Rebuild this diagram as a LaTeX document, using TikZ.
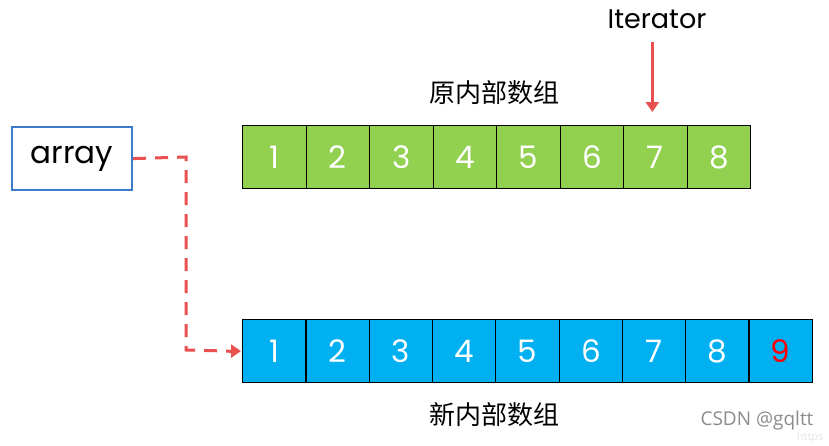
\documentclass[tikz,border=0pt]{standalone}
\usepackage{fontspec}
\setmainfont{Poppins}
\newfontfamily\cjk{Noto Sans CJK SC}
\newfontfamily\csdn{Open Sans}
\usetikzlibrary{arrows.meta}
\definecolor{cgreen}{HTML}{92D050}
\definecolor{cblue}{HTML}{00B0F0}
\definecolor{cred}{HTML}{E8514F}
\definecolor{cborder}{HTML}{3D7CC9}
\tikzset{
  cellg/.style={draw=black,line width=1.2pt,fill=cgreen,minimum width=63.5pt,minimum height=63pt,inner sep=0pt,text=white,font=\fontsize{31}{34}\selectfont,anchor=north west},
  cellb/.style={cellg,fill=cblue},
  link/.style={cred,line width=3pt,dash pattern=on 13pt off 9pt},
  ptr/.style={cred,line width=3pt,-{Triangle[length=10pt,width=13pt]}},
  lbl/.style={font=\cjk\fontsize{26}{28}\selectfont}
}
\begin{document}
\begin{tikzpicture}[x=1pt,y=-1pt]
\path[use as bounding box] (0,0) rectangle (829,445);
\fill[white] (0,0) rectangle (829,445);
% top row
\foreach \i in {1,...,8}{
  \node[cellg] (t\i) at ({242+(\i-1)*63.5},125) {\i};
}
% bottom row
\foreach \i in {1,...,8}{
  \node[cellb] (b\i) at ({242+(\i-1)*63.3},319) {\i};
}
\node[cellb,text=red] (b9) at ({242+8*63.3},319) {9};
% array box
\node[draw=cborder,line width=2.2pt,minimum width=120pt,minimum height=63pt,inner sep=0pt,font=\fontsize{31}{34}\selectfont,anchor=north west] (arr) at (11,126) {array};
% labels
\node[lbl] (lt) at (494,93) {原内部数组};
\node[lbl] (lb) at (494,415) {新内部数组};
\node[font=\fontsize{27}{30}\selectfont] (it) at (657,19) {Iterator};
% iterator arrow
\coordinate (itop) at ([xshift=-3pt]t7.north |- 0,42);
\coordinate (itip) at ([xshift=-3pt,yshift=13pt]t7.north);
\draw[ptr] (itop) -- (itip);
% dashed link
\coordinate (bend1) at (186,157);
\coordinate (bend2) at (186,350);
\draw[link] (arr.east) -- (bend1) -- (bend2) -- ([xshift=-12pt]b1.west);
\draw[cred,line width=3pt,-{Triangle[length=10pt,width=13pt]}] ([xshift=-13pt]b1.west) -- ([xshift=-1pt]b1.west);
% watermark
\node[text=gray!90,font=\csdn\fontsize{19}{22}\selectfont] (wm) at (757,421) {CSDN @gqltt};
\node[text=gray!20,font=\csdn\fontsize{11}{12}\selectfont,anchor=east] (hs) at (827,438) {https};
\end{tikzpicture}
\end{document}
